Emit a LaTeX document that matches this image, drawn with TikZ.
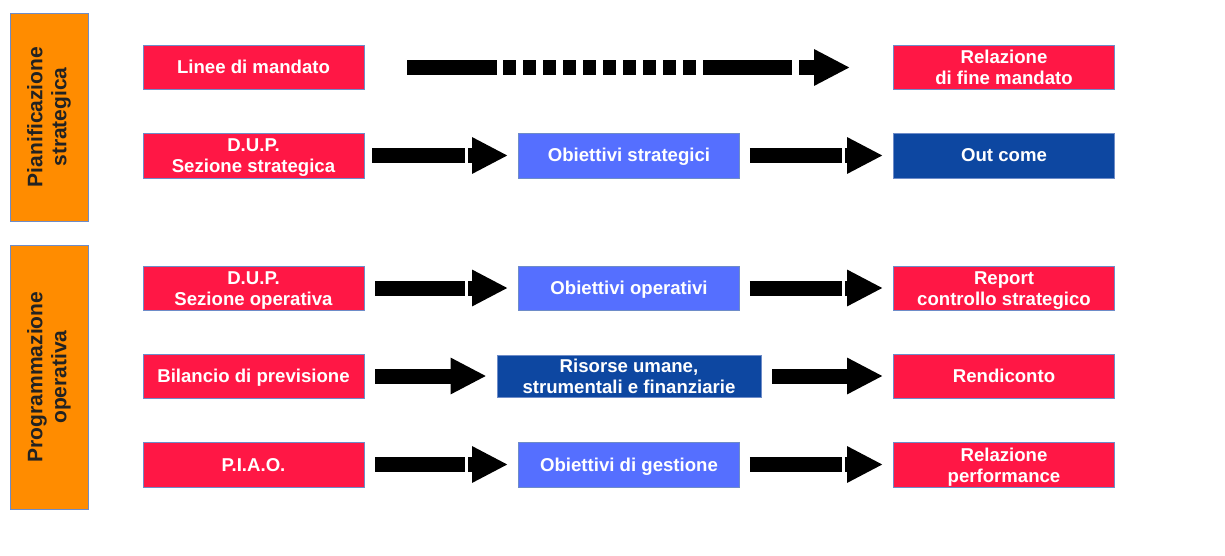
\documentclass[tikz,border=0pt]{standalone}
\usepackage{fontspec}
\setmainfont{Liberation Sans}
\usetikzlibrary{arrows.meta}
\definecolor{cred}{RGB}{255,23,69}
\definecolor{clblue}{RGB}{85,111,255}
\definecolor{cdblue}{RGB}{13,71,161}
\definecolor{corange}{RGB}{255,140,0}
\definecolor{cedge}{RGB}{110,140,200}
\definecolor{ctext}{RGB}{34,34,34}
\newcommand\twol[2]{\vbox{\halign{\hfil##\hfil\cr#1\cr#2\cr}}}
\tikzset{
  box/.style={draw=cedge, line width=0.9pt, minimum width=221pt, minimum height=44pt,
    inner sep=0pt, text=white, text height=13pt, text depth=0pt,
    font=\fontsize{18.6}{21}\selectfont\bfseries},
  two/.style={text height=35pt, text depth=0pt},
  redbox/.style={box, fill=cred},
  lbbox/.style={box, fill=clblue},
  dbbox/.style={box, fill=cdblue},
  phase/.style={draw=cedge, line width=0.9pt, fill=corange, rotate=90, inner sep=0pt,
    align=center, text=ctext, minimum height=78pt,
    font=\fontsize{21}{24}\selectfont\bfseries},
  flow/.style={line width=15pt, draw=black, -{Triangle[length=36pt,width=34pt]}},
  brk/.style={dash pattern=on #1 off 3pt on 40pt},
}
\begin{document}
\begin{tikzpicture}[x=1pt,y=-1pt]
\useasboundingbox (0,0) rectangle (1225,556);
% phases
\node[phase, minimum width=208pt] (p1) at (49,117) {Pianificazione\\strategica};
\node[phase, minimum width=264pt] (p2) at (49,377) {Programmazione\\operativa};
% column 1
\node[redbox] (a1) at (253.5,67.5) {Linee di mandato};
\node[redbox, two, minimum height=45pt] (a2) at (253.5,155.5) {\twol{D.U.P.}{Sezione strategica}};
\node[redbox, two] (a3) at (253.5,288) {\twol{D.U.P.}{Sezione operativa}};
\node[redbox] (a4) at (253.5,376) {Bilancio di previsione};
\node[redbox, minimum height=45pt] (a5) at (253.5,464.5) {P.I.A.O.};
% column 2
\node[lbbox, minimum height=45pt] (b2) at (629,155.5) {Obiettivi strategici};
\node[lbbox] (b3) at (629,288) {Obiettivi operativi};
\node[dbbox, two, minimum width=264pt, minimum height=42pt] (b4) at (629,376) {\twol{Risorse umane,}{strumentali e finanziarie}};
\node[lbbox, minimum height=45pt] (b5) at (629,464.5) {Obiettivi di gestione};
% column 3
\node[redbox, two] (c1) at (1004,67.5) {\twol{Relazione}{di fine mandato}};
\node[dbbox, minimum height=45pt] (c2) at (1004,155.5) {Out come};
\node[redbox, two] (c3) at (1004,288) {\twol{Report}{controllo strategico}};
\node[redbox] (c4) at (1004,376) {Rendiconto};
\node[redbox, two, minimum height=45pt] (c5) at (1004,464.5) {\twol{Relazione}{performance}};
% arrows
\draw[flow, shorten <=43pt, shorten >=43pt,
  dash pattern=on 90pt off 6pt
    on 13pt off 7pt on 13pt off 7pt on 13pt off 7pt on 13pt off 7pt on 13pt off 7pt
    on 13pt off 7pt on 13pt off 7pt on 13pt off 7pt on 13pt off 7pt on 13pt off 7pt
    on 89pt off 7pt on 40pt] (a1) -- (c1);
\draw[flow, brk=93pt, shorten <=8pt, shorten >=10pt] (a2) -- (b2);
\draw[flow, brk=92pt, shorten <=10pt, shorten >=10pt] (b2) -- (c2);
\draw[flow, brk=90pt, shorten <=11pt, shorten >=10pt] (a3) -- (b3);
\draw[flow, brk=92pt, shorten <=10pt, shorten >=10pt] (b3) -- (c3);
\draw[flow, shorten <=11pt, shorten >=10pt] (a4) -- (b4);
\draw[flow, shorten <=11pt, shorten >=10pt] (b4) -- (c4);
\draw[flow, brk=90pt, shorten <=11pt, shorten >=10pt] (a5) -- (b5);
\draw[flow, brk=92pt, shorten <=10pt, shorten >=10pt] (b5) -- (c5);
\end{tikzpicture}
\end{document}
